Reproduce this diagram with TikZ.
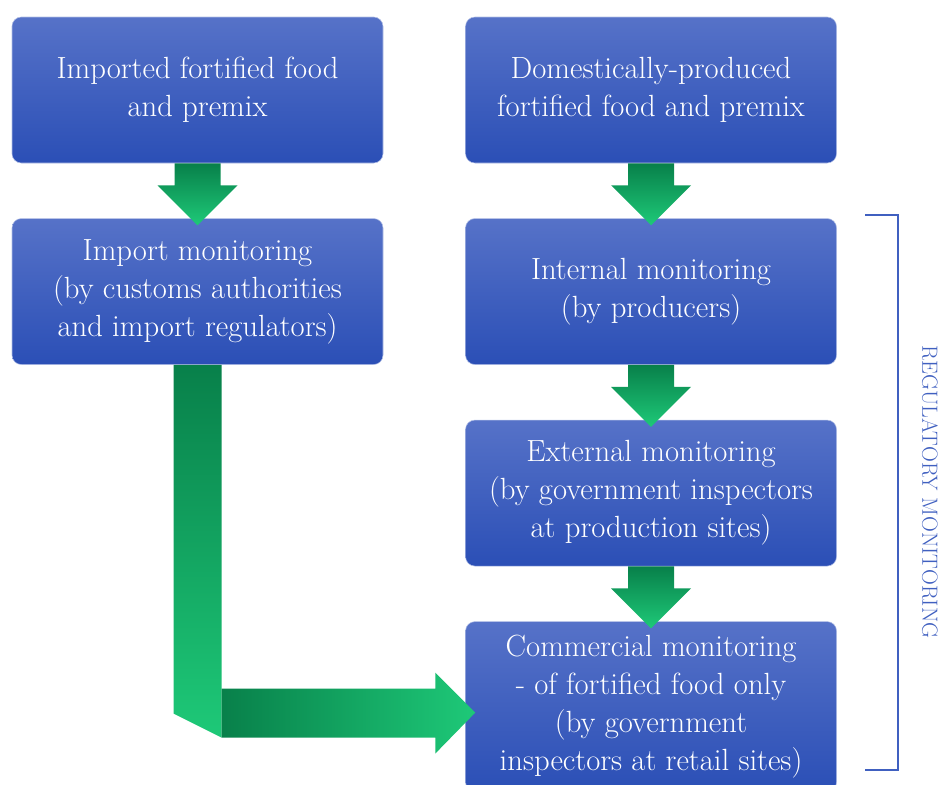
\documentclass[tikz,border=0pt]{standalone}
\usepackage{xcolor}
\usepackage{tikz}
\usetikzlibrary{calc,positioning}

\definecolor{boxtop}{RGB}{86,114,200}
\definecolor{boxbot}{RGB}{43,79,182}
\definecolor{greendark}{RGB}{8,128,74}
\definecolor{greenlight}{RGB}{30,201,120}
\definecolor{bracketblue}{RGB}{64,96,192}

\tikzset{
  box/.style={rectangle, rounded corners=7pt, draw=white!55!boxtop, line width=0.4pt,
    top color=boxtop, bottom color=boxbot, text=white, align=center,
    minimum width=278.25pt, minimum height=109.5pt, inner sep=0pt,
    font=\fontsize{23}{28.5}\selectfont},
  greenarrow/.style={top color=greendark, bottom color=greenlight},
}

\begin{document}
\begin{tikzpicture}[x=0.75pt,y=-0.75pt]
\useasboundingbox (0,0) rectangle (943,785);
\clip (0,0) rectangle (943,785);
\node[box] (imported) at (197.5,90) {Imported fortified food\\and premix};
\node[box, right=61.5pt of imported] (domestic) {Domestically-produced\\fortified food and premix};
\node[box, below=41.25pt of imported] (importmon) {Import monitoring\\(by customs authorities\\and import regulators)};
\node[box, below=41.25pt of domestic] (internal) {Internal monitoring\\(by producers)};
\node[box, below=41.25pt of internal] (external) {External monitoring\\(by government inspectors\\at production sites)};
\node[box, below=41.25pt of external, minimum height=127.5pt] (commercial) {Commercial monitoring\\- of fortified food only\\(by government\\inspectors at retail sites)};
% straight arrows
\foreach \a/\b in {imported/importmon, domestic/internal, internal/external, external/commercial}
  \shade[greenarrow] ($(\a.south)+(-23,0)$) -- ($(\a.south)+(23,0)$) -- ($(\a.south)+(23,22)$)
    -- ($(\a.south)+(40,22)$) -- ($(\b.north)+(0,7)$) -- ($(\a.south)+(-40,22)$)
    -- ($(\a.south)+(-23,22)$) -- cycle;
% bent arrow
\coordinate (tip) at ($(commercial.west)+(10,6)$);
\coordinate (corner) at ($(importmon.south |- tip)+(24,0)$);
\shade[greenarrow] ($(importmon.south)+(-24,0)$) -- ($(importmon.south)+(24,0)$)
  -- ($(corner)+(0,25)$) -- ($(corner)+(-48,1)$) -- cycle;
\shade[left color=greendark, right color=greenlight] ($(corner)+(0,-24)$) -- ($(tip)+(-40,-24)$)
  -- ($(tip)+(-40,-40)$) -- (tip) -- ($(tip)+(-40,41)$) -- ($(tip)+(-40,25)$)
  -- ($(corner)+(0,25)$) -- cycle;
% bracket
\draw[bracketblue, line width=1pt] (865,215) -- (898,215) -- (898,770) -- (865,770);
\node[rotate=-90, text=bracketblue, font=\fontsize{16.5}{20}\selectfont] (reglabel) at (930,492) {REGULATORY MONITORING};
\end{tikzpicture}
\end{document}
